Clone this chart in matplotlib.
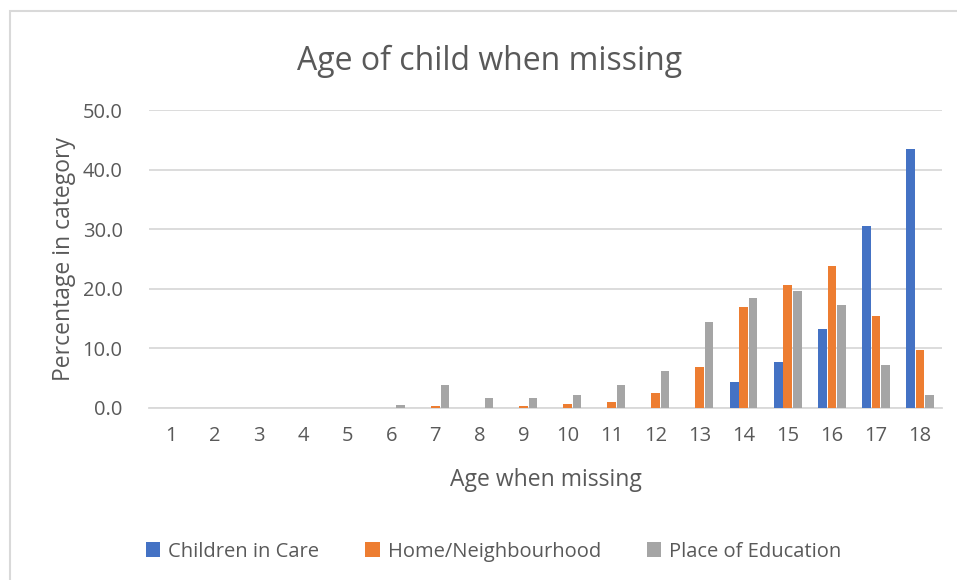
import matplotlib
matplotlib.use("Agg")
import matplotlib.pyplot as plt
import numpy as np

plt.rcParams['font.family'] = ['Open Sans', 'DejaVu Sans']

ages = ["1", "2", "3", "4", "5", "6", "7", "8", "9", "10", "11", "12",
        "13", "14", "15", "16", "17", "18"]
children_in_care = [0, 0, 0, 0, 0, 0, 0, 0, 0, 0, 0, 0,
                    0, 4.4, 7.7, 13.3, 30.5, 43.4]
home_neighbourhood = [0, 0, 0, 0, 0, 0, 0.3, 0, 0.3, 0.7, 1.0, 2.5,
                      6.8, 16.9, 20.6, 23.8, 15.4, 9.8]
place_of_education = [0, 0, 0, 0, 0, 0.5, 3.8, 1.6, 1.6, 2.2, 3.8, 6.2,
                      14.5, 18.4, 19.7, 17.3, 7.2, 2.2]
series_names = ["Children in Care", "Home/Neighbourhood", "Place of Education"]
colors = ["#4472C4", "#ED7D31", "#A5A5A5"]
y_ticks = [0, 10, 20, 30, 40, 50]

text_color = "#595959"
grid_color = "#D9D9D9"

fig = plt.figure(figsize=(9.57, 5.8), dpi=100)
ax = fig.add_axes([0.1557, 0.2966, 0.8286, 0.5137])

x = np.arange(len(ages))
width = 0.195
step = 0.215
for i, (vals, name, col) in enumerate(zip(
        [children_in_care, home_neighbourhood, place_of_education],
        series_names, colors)):
    ax.bar(x + (i - 1) * step, vals, width=width, color=col,
           edgecolor="none", label=name, zorder=3)

ax.set_xlim(-0.5, len(ages) - 0.5)
ax.set_ylim(0, 50)
ax.set_yticks(y_ticks)
ax.set_yticklabels([f"{v:.1f}" for v in y_ticks])
ax.set_xticks(x)
ax.set_xticklabels(ages)
ax.grid(axis="y", color=grid_color, linewidth=1.3, zorder=0)
for s in ["top", "right", "left"]:
    ax.spines[s].set_visible(False)
ax.spines["bottom"].set_color(grid_color)
ax.spines["bottom"].set_linewidth(1.3)
ax.spines["bottom"].set_zorder(2)
ax.tick_params(axis="both", length=0, labelsize=14.5, colors=text_color)
ax.tick_params(axis="x", pad=13)
ax.tick_params(axis="y", pad=19)

ax.set_xlabel("Age when missing", fontsize=16.5, color=text_color, labelpad=16)
ax.set_ylabel("Percentage in category", fontsize=16.5, color=text_color, labelpad=5)

fig.text(0.512, 0.895, "Age of child when missing", ha="center", va="center",
         fontsize=23, color=text_color)

leg = fig.legend(loc="center", bbox_to_anchor=(0.516, 0.049), ncol=3,
                 frameon=False, fontsize=14.5, labelcolor=text_color,
                 handlelength=0.7, handleheight=0.7, handletextpad=0.4,
                 columnspacing=2.3)

# Chart frame
fig.add_artist(plt.Rectangle((10 / 957, -0.05), 1.2, 1 - 11 / 580 + 0.05,
                             transform=fig.transFigure, fill=False,
                             edgecolor=grid_color, linewidth=1.5))

fig.savefig("out.png", dpi=100, facecolor="white")
